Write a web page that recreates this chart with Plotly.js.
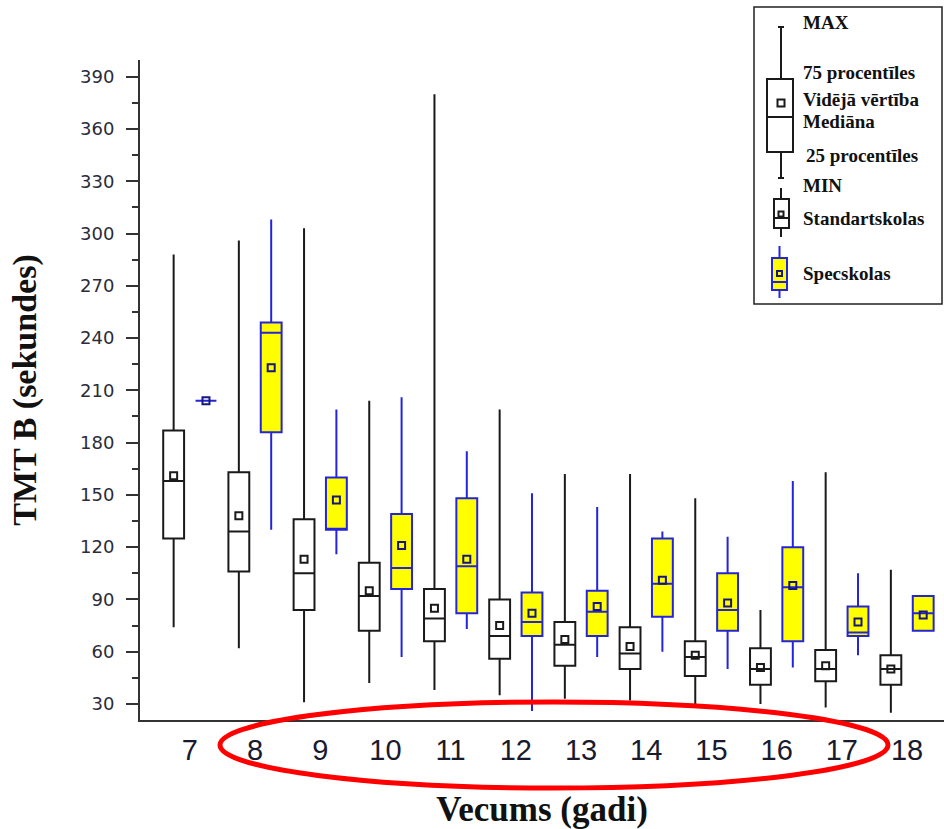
<!DOCTYPE html>
<html>
<head>
<meta charset="utf-8">
<script src="https://cdn.plot.ly/plotly-3.0.1.min.js"></script>
<style>html,body{margin:0;padding:0;background:#fff;}#chart{width:944px;height:829px;}</style>
</head>
<body>
<div id="chart"></div>
<script>
// ---- data ----
const ages = [7, 8, 9, 10, 11, 12, 13, 14, 15, 16, 17, 18];
const tickLabels = ["7", "8", "9", "10", "11", "12", "13", "14", "15", "16", "17", "18"];

// Standartskolas
const stdMin  = [74, 62, 31, 42, 38, 35, 33, 32, 30, 30, 28, 25];
const stdQ1   = [125, 106, 84, 72, 66, 56, 52, 50, 46, 41, 43, 41];
const stdMed  = [158, 129, 105, 92, 79, 69, 64, 59, 57, 50, 50, 50];
const stdQ3   = [187, 163, 136, 111, 96, 90, 77, 74, 66, 62, 61, 58];
const stdMax  = [288, 296, 303, 204, 380, 199, 162, 162, 148, 84, 163, 107];
const stdMean = [161, 138, 113, 95, 85, 75, 67, 63, 58, 51, 52, 50];

// Specskolas
const spMin  = [204, 130, 116, 57, 73, 26, 57, 60, 50, 51, 58, 72];
const spQ1   = [204, 186, 130, 96, 82, 69, 69, 80, 72, 66, 69, 72];
const spMed  = [204, 243, 130, 108, 109, 77, 83, 99, 84, 97, 71, 82];
const spQ3   = [204, 249, 160, 139, 148, 94, 95, 125, 105, 120, 86, 92];
const spMax  = [204, 308, 199, 206, 175, 151, 143, 129, 126, 158, 105, 92];
const spMean = [204, 223, 147, 121, 113, 82, 86, 101, 88, 98, 77, 81];

// ---- styling ----
const OFF = 0.248, BW = 0.32;
const STD_LINE = '#1a1a1a', SP_LINE = '#2424d8', SP_MEAN = '#16167e', SP_FILL = '#ffff00';
const serif = '"Liberation Serif", "Times New Roman", serif';

const traces = [
  {type: 'box', orientation: 'v', x: ages.map(a => a - OFF), q1: stdQ1, median: stdMed, q3: stdQ3,
   lowerfence: stdMin, upperfence: stdMax, width: BW, whiskerwidth: 0, boxpoints: false,
   fillcolor: '#ffffff', line: {color: STD_LINE, width: 2}, name: 'Standartskolas', showlegend: false, hoverinfo: 'skip'},
  {type: 'box', orientation: 'v', x: ages.map(a => a + OFF), q1: spQ1, median: spMed, q3: spQ3,
   lowerfence: spMin, upperfence: spMax, width: BW, whiskerwidth: 0, boxpoints: false,
   fillcolor: SP_FILL, line: {color: SP_LINE, width: 2}, name: 'Specskolas', showlegend: false, hoverinfo: 'skip'},
  {type: 'scatter', mode: 'markers', x: ages.map(a => a - OFF), y: stdMean,
   marker: {symbol: 'square-open', size: 7, color: STD_LINE, line: {width: 2, color: STD_LINE}}, showlegend: false, hoverinfo: 'skip'},
  {type: 'scatter', mode: 'markers', x: ages.map(a => a + OFF), y: spMean,
   marker: {symbol: 'square-open', size: 7, color: SP_MEAN, line: {width: 2, color: SP_MEAN}}, showlegend: false, hoverinfo: 'skip'}
];

// pixel -> paper helpers for the hand-drawn key
const L = 140, T = 60, W = 804, H = 660;
const px = x => (x - L) / W;
const py = y => (T + H - y) / H;

const shapes = [];
function line(x0, y0, x1, y1, color, w) {
  shapes.push({type: 'line', xref: 'paper', yref: 'paper', x0: px(x0), y0: py(y0), x1: px(x1), y1: py(y1),
    line: {color: color, width: w}, layer: 'above'});
}
function rect(x0, y0, x1, y1, color, w, fill) {
  shapes.push({type: 'rect', xref: 'paper', yref: 'paper', x0: px(x0), y0: py(y0), x1: px(x1), y1: py(y1),
    line: {color: color, width: w}, fillcolor: fill || 'rgba(0,0,0,0)', layer: 'above'});
}

// key frame
rect(754, 7, 942, 304, '#222', 1.5, '#ffffff');
// schematic box
line(781, 27, 781, 79, STD_LINE, 2);
line(781, 152, 781, 178, STD_LINE, 2);
line(778, 27, 784, 27, STD_LINE, 2);
line(778, 178, 784, 178, STD_LINE, 2);
rect(767, 79, 793, 152, STD_LINE, 2, '#ffffff');
line(767, 117, 793, 117, STD_LINE, 2);
rect(777.5, 99.5, 784.5, 106.5, STD_LINE, 2);
// Standartskolas sample
line(781, 188, 781, 237, STD_LINE, 2);
rect(774, 199, 789, 228, STD_LINE, 2, '#ffffff');
line(774, 218, 789, 218, STD_LINE, 2);
rect(778.5, 211.5, 783.5, 216.5, STD_LINE, 2);
// Specskolas sample
line(779.5, 246, 779.5, 298, SP_LINE, 2);
rect(772, 258, 787, 290, SP_LINE, 2, SP_FILL);
line(772, 282, 787, 282, SP_LINE, 2);
rect(777, 271, 782, 276, SP_MEAN, 2);

// red ellipse around the age labels
shapes.push({type: 'circle', xref: 'paper', yref: 'paper', x0: px(220), x1: px(888), y0: py(788), y1: py(702),
  line: {color: '#ff0000', width: 5}, layer: 'above'});

const keyFont = {family: serif, size: 19, color: '#111'};
function keyText(text, x, y) {
  return {text: '<b>' + text + '</b>', xref: 'paper', yref: 'paper', x: px(x), y: py(y),
    xanchor: 'left', yanchor: 'middle', showarrow: false, font: keyFont};
}
const annotations = [
  keyText('MAX', 801, 23),
  keyText('75 procentīles', 801, 72),
  keyText('Vidējā vērtība', 801, 100),
  keyText('Mediāna', 801, 121),
  keyText('25 procentīles', 804, 155),
  keyText('MIN', 801, 185),
  keyText('Standartskolas', 801, 218),
  keyText('Specskolas', 801, 273)
];

const layout = {
  width: 944, height: 829,
  margin: {l: L, r: 0, t: T, b: 829 - T - H},
  paper_bgcolor: '#ffffff', plot_bgcolor: '#ffffff',
  showlegend: false,
  xaxis: {
    range: [6.236, 18.567], tickmode: 'array', tickvals: ages, ticktext: tickLabels,
    showgrid: false, zeroline: false, showline: true, linecolor: '#333', linewidth: 2,
    ticks: '', ticklabelstandoff: 3,
    tickfont: {family: '"Liberation Sans", Arial, sans-serif', size: 29, color: '#1a1a2e'},
    title: {text: '<b>Vecums (gadi)</b>', font: {family: serif, size: 35, color: '#111'}, standoff: 37}
  },
  yaxis: {
    range: [20.8, 399.6], tickmode: 'array', tickvals: [30, 60, 90, 120, 150, 180, 210, 240, 270, 300, 330, 360, 390],
    showgrid: false, zeroline: false, showline: true, linecolor: '#333', linewidth: 2,
    ticks: 'outside', ticklen: 12, tickwidth: 2, tickcolor: '#333', ticklabelstandoff: 8,
    minor: {dtick: 15, tick0: 15, ticks: 'outside', ticklen: 6, tickwidth: 2, tickcolor: '#333', showgrid: false},
    tickfont: {family: '"DejaVu Sans", Verdana, sans-serif', size: 18, color: '#2b2b3a'},
    title: {text: '<b>TMT B (sekundes)</b>', font: {family: serif, size: 34, color: '#111'}, standoff: 33}
  },
  shapes: shapes,
  annotations: annotations
};

Plotly.newPlot('chart', traces, layout, {staticPlot: true, displayModeBar: false});
</script>
</body>
</html>
